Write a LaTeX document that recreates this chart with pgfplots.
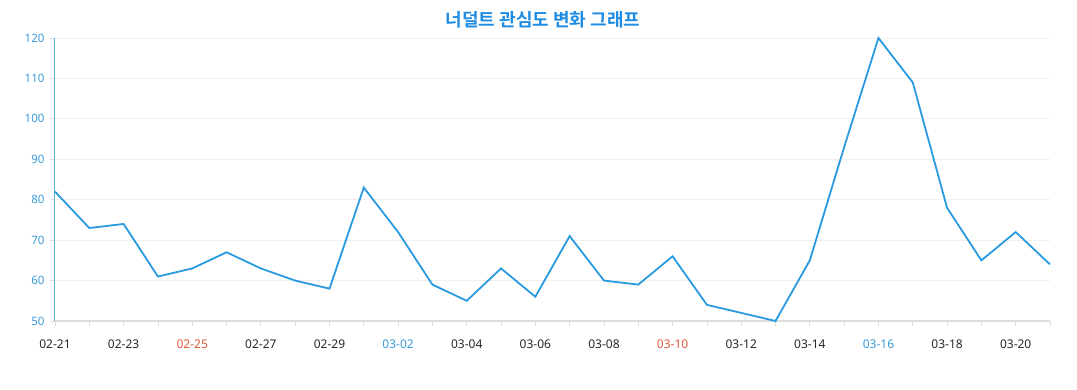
\documentclass[border=0pt]{standalone}
\usepackage{pgfplots}
\pgfplotsset{compat=1.18}
\usepackage{fontspec}
\setmainfont{Noto Sans}
\newfontfamily\cjk{Noto Sans CJK KR}[BoldFont={* Bold}]
\definecolor{linec}{HTML}{2A9AE0}
\definecolor{ylab}{HTML}{3A9AD9}
\definecolor{yax}{HTML}{5AAEE0}
\definecolor{redl}{HTML}{E0583A}
\definecolor{bluel}{HTML}{3A9AD9}
\definecolor{titlec}{HTML}{1E8CE2}
\definecolor{gridc}{HTML}{F0F0F0}
\definecolor{axc}{HTML}{DDDDDD}
\begin{document}
\begin{tikzpicture}[x=1pt,y=1pt]
\path[use as bounding box] (0,0) rectangle (1077,390);
\node[font=\cjk\bfseries\fontsize{18}{20}\selectfont, text=titlec] at (543,370) {너덜트 관심도 변화 그래프};
\begin{axis}[
  at={(55pt,69pt)}, anchor=south west,
  scale only axis, width=995pt, height=283pt,
  xmin=0, xmax=29, ymin=50, ymax=120,
  axis x line=bottom, axis y line=left,
  axis line style={-},
  x axis line style={draw=axc, line width=1.2pt},
  y axis line style={draw=yax, line width=1pt},
  xtick={0,...,29},
  xticklabels={02-21,,02-23,,\textcolor{redl}{02-25},,02-27,,02-29,,\textcolor{bluel}{03-02},,03-04,,03-06,,03-08,,\textcolor{redl}{03-10},,03-12,,03-14,,\textcolor{bluel}{03-16},,03-18,,03-20,},
  ytick={50,60,...,120},
  tick align=outside,
  major tick length=5pt,
  x tick style={draw=axc, line width=0.8pt},
  y tick style={draw=axc, line width=0.8pt},
  ymajorgrids, grid style={draw=gridc, line width=0.8pt},
  x tick label style={font=\fontsize{12}{14}\selectfont, text=black!85, yshift=-10pt},
  y tick label style={font=\fontsize{11.5}{13}\selectfont, text=ylab, xshift=-2pt},
  /pgf/number format/assume math mode=true,
  clip=false,
]
\addplot[color=linec, line width=1.8pt, mark=none] coordinates {
(0,82) (1,73) (2,74) (3,61) (4,63) (5,67) (6,63) (7,60) (8,58) (9,83)
(10,72) (11,59) (12,55) (13,63) (14,56) (15,71) (16,60) (17,59) (18,66) (19,54)
(20,52) (21,50) (22,65) (23,93) (24,120) (25,109) (26,78) (27,65) (28,72) (29,64)
};
\end{axis}
\end{tikzpicture}
\end{document}
